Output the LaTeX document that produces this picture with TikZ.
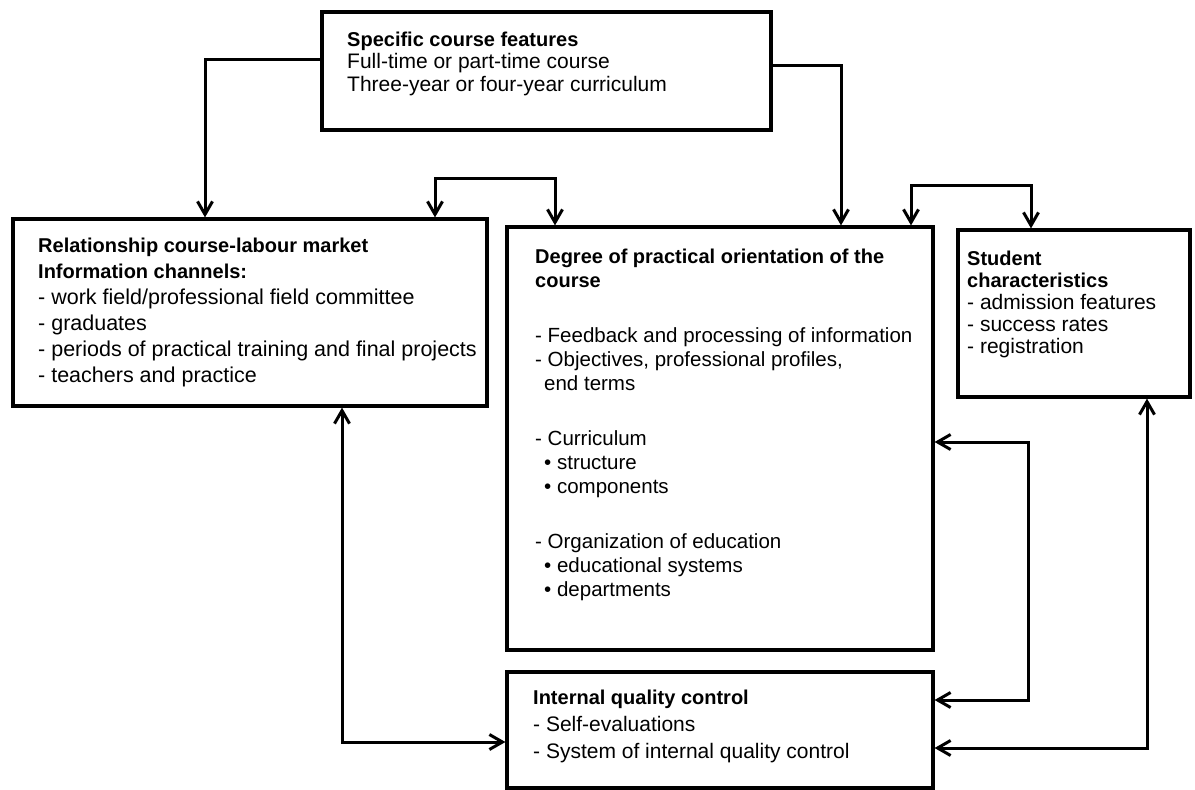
\documentclass[tikz,border=0pt]{standalone}
\usepackage{fontspec}
\setmainfont{Liberation Sans}
\usetikzlibrary{arrows.meta,positioning}

\tikzset{
  box/.style={draw, line width=3.2pt, inner sep=0pt},
  txt/.style={anchor=north west, inner sep=0pt, align=left},
  link/.style={line width=3pt, -{Straight Barb[length=13pt,width=15pt]}},
  dlink/.style={line width=3pt, {Straight Barb[length=13pt,width=15pt]}-{Straight Barb[length=13pt,width=15pt]}},
}
\newcommand{\fs}[2]{\fontsize{#1}{#2}\selectfont}
\newcommand{\hd}[1]{{\bfseries\fontsize{20}{\baselineskip}\selectfont #1}}

\begin{document}
\begin{tikzpicture}[x=1pt,y=-1pt]
  \useasboundingbox (0,0) rectangle (1195,790);

  % boxes
  \node[box, minimum width=449pt, minimum height=118pt] (top) at (546.5,71) {};
  \node[box, minimum width=474pt, minimum height=187pt] (lm)  at (250,312.5) {};
  \node[box, minimum width=426pt, minimum height=423pt] (deg) at (720,438.5) {};
  \node[box, minimum width=232pt, minimum height=167pt] (stu) at (1074,313.5) {};
  \node[box, minimum width=426pt, minimum height=116pt] (bot) at (720,730) {};

  % texts
  \node[txt, font={\fs{21}{22.5}}] (toptxt) at (347,31.5)
    {\hd{Specific course features}\\Full-time or part-time course\\Three-year or four-year curriculum};
  \node[txt, font={\fs{21.5}{26}}] (lmtxt) at (38,237.5)
    {\hd{Relationship course-labour market}\\\hd{Information channels:}\\- work field/professional field committee\\- graduates\\- periods of practical training and final projects\\- teachers and practice};
  \node[txt, font={\fs{20.5}{24}}] (degtxt) at (535,248.5)
    {\hd{Degree of practical orientation of the}\\\hd{course}\\[31pt]
     - Feedback and processing of information\\- Objectives, professional profiles,\\\hspace*{9pt}end terms\\[31pt]
     - Curriculum\\\hspace*{9pt}\textbullet\ structure\\\hspace*{9pt}\textbullet\ components\\[31pt]
     - Organization of education\\\hspace*{9pt}\textbullet\ educational systems\\\hspace*{9pt}\textbullet\ departments};
  \node[txt, font={\fs{21}{22}}] (stutxt) at (967,250.5)
    {\hd{Student}\\\hd{characteristics}\\- admission features\\- success rates\\- registration};
  \node[txt, font={\fs{21}{27}}] (bottxt) at (533,689.5)
    {\hd{Internal quality control}\\- Self-evaluations\\- System of internal quality control};

  % elbows
  \coordinate (k1) at (205,59);
  \coordinate (k2) at (841,65);
  \coordinate (k3a) at (435,178);
  \coordinate (k3b) at (555,178);
  \coordinate (k4a) at (911,185);
  \coordinate (k4b) at (1031,185);
  \coordinate (k5) at (342,742);
  \coordinate (k6a) at (1028,442);
  \coordinate (k6b) at (1028,700);
  \coordinate (k7) at (1147,748);

  % connectors
  \draw[link] (top.west |- k1) -- (k1) -- (k1 |- lm.north);
  \draw[link] (top.east |- k2) -- (k2) -- (k2 |- deg.north);
  \draw[dlink] (k3a |- lm.north) -- (k3a) -- (k3b) -- (k3b |- deg.north);
  \draw[dlink] (k4a |- deg.north) -- (k4a) -- (k4b) -- (k4b |- stu.north);
  \draw[dlink] (k5 |- lm.south) -- (k5) -- (k5 -| bot.west);
  \draw[dlink] (k6a -| deg.east) -- (k6a) -- (k6b) -- (k6b -| bot.east);
  \draw[dlink] (k7 |- stu.south) -- (k7) -- (k7 -| bot.east);
\end{tikzpicture}
\end{document}
